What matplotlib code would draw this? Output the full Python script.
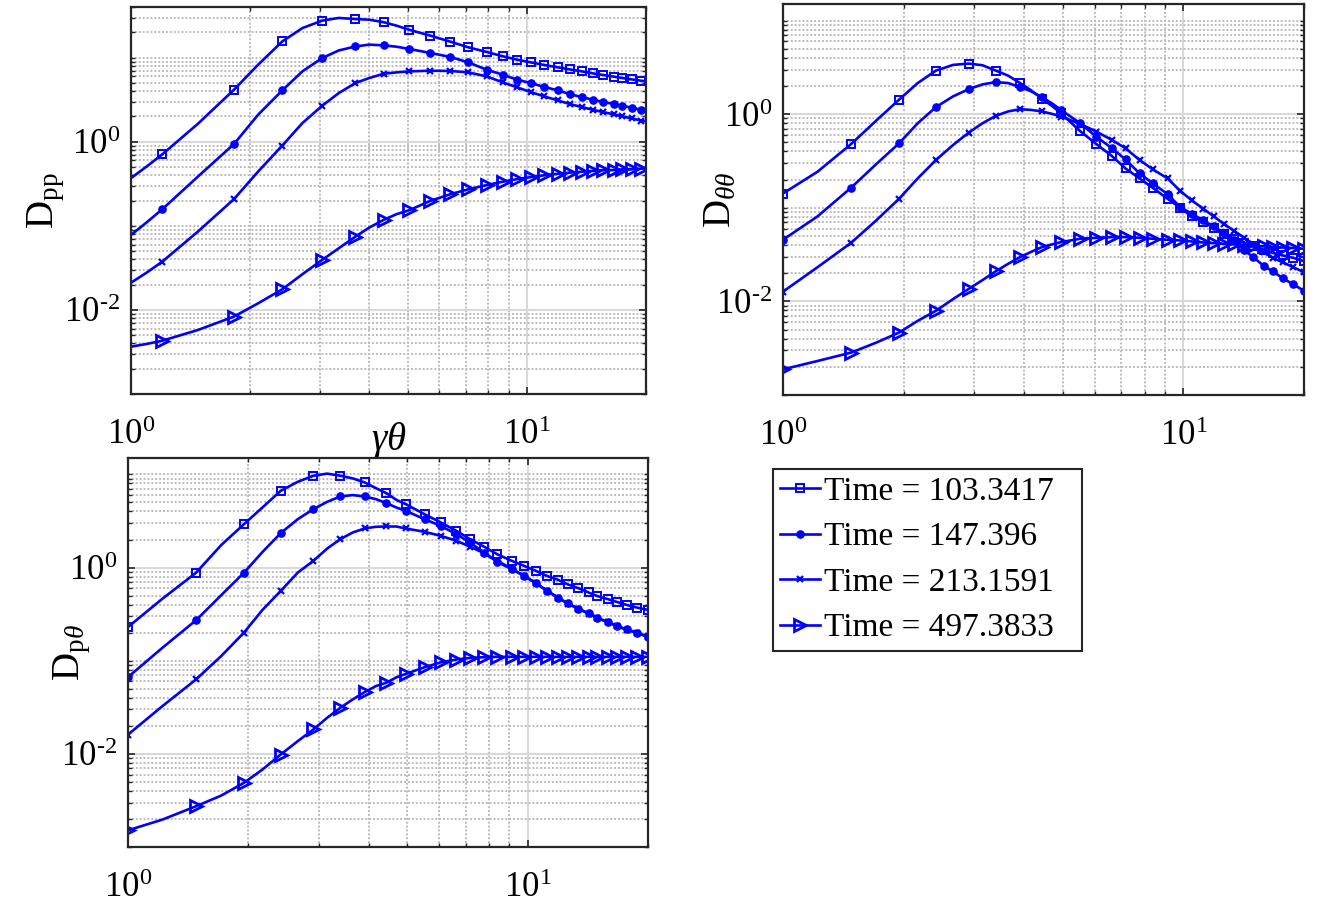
import matplotlib
matplotlib.use('Agg')
import matplotlib.pyplot as plt
from matplotlib.ticker import FixedLocator, FixedFormatter, LogLocator, NullFormatter
from matplotlib.lines import Line2D
import numpy as np

plt.rcParams['font.family'] = ['Liberation Serif', 'DejaVu Serif']
plt.rcParams['mathtext.fontset'] = 'custom'
plt.rcParams['mathtext.rm'] = 'Liberation Serif'
plt.rcParams['mathtext.it'] = 'Liberation Serif:italic'
plt.rcParams['mathtext.bf'] = 'Liberation Serif:bold'
plt.rcParams['axes.unicode_minus'] = False

# legend labels, one per time snapshot
times = ['103.3417', '147.396', '213.1591', '497.3833']

# --- D_pp (top left) ---
# marker positions in gamma*theta (first and last point: curve ends, no marker)
gt_pp = [1.0, 1.2, 1.82, 2.41, 3.04, 3.69, 4.35, 5.04, 5.70, 6.41, 7.11, 7.91, 8.69,
         9.46, 10.23, 11.08, 11.99, 12.84, 13.75, 14.68, 15.61, 16.6, 17.42, 18.39,
         19.45, 20.0]
dpp_t1 = [0.37, 0.71, 4.16, 15.6, 27.6, 28.8, 26.4, 21.5, 18.3, 15.5, 13.3, 11.7, 10.4,
          9.46, 8.8, 8.18, 7.67, 7.26, 6.88, 6.51, 6.22, 5.94, 5.73, 5.52, 5.32, 5.23]
dpp_t2 = [0.078, 0.158, 0.94, 4.08, 9.9, 13.6, 14.0, 12.7, 11.4, 10.2, 8.8, 7.2, 6.28,
          5.47, 4.99, 4.48, 4.08, 3.69, 3.4, 3.16, 2.97, 2.81, 2.68, 2.54, 2.40, 2.35]
dpp_t3 = [0.0211, 0.0376, 0.208, 0.90, 2.68, 5.0, 6.45, 6.87, 7.0, 6.95, 6.69, 6.0, 5.09,
          4.43, 3.9, 3.46, 3.1, 2.81, 2.59, 2.40, 2.25, 2.12, 2.0, 1.9, 1.79, 1.75]
dpp_t4 = [0.00366, 0.00431, 0.00834, 0.0176, 0.0394, 0.0746, 0.118, 0.153, 0.198, 0.238,
          0.272, 0.305, 0.335, 0.36, 0.38, 0.40, 0.416, 0.43, 0.44, 0.45, 0.46, 0.46,
          0.47, 0.47, 0.48, 0.48]
# extra curve points between the first markers (no markers there)
gt_pp_mid = [1.095, 1.476, 2.095, 2.71, 3.35, 4.0, 4.69]
dpp_t1_mid = [0.508, 1.64, 8.26, 22.5, 29.7, 28.3, 24.0]
dpp_t2_mid = [0.11, 0.386, 2.1, 6.88, 12.2, 14.3, 13.5]
dpp_t3_mid = [0.0278, 0.0857, 0.443, 1.67, 3.8, 5.73, 6.69]
dpp_t4_mid = [0.00394, 0.00578, 0.012, 0.0266, 0.0542, 0.0955, 0.138]

# --- grid shared by D_thth (top right) and D_pth (bottom left) ---
gt = [1.0, 1.48, 1.95, 2.41, 2.91, 3.40, 3.91, 4.43, 4.95, 5.52, 6.06, 6.63, 7.17, 7.77,
      8.39, 9.13, 9.81, 10.49, 11.2, 11.9, 12.6, 13.4, 14.2, 14.9, 15.9, 16.7, 17.7,
      18.8, 20.0]
gt_mid = [1.22, 1.71, 2.17, 2.66, 3.15, 3.65, 4.17, 4.69]

dtt_t1 = [0.142, 0.48, 1.43, 2.92, 3.47, 2.92, 2.15, 1.47, 1.02, 0.66, 0.48, 0.357, 0.263,
          0.206, 0.163, 0.125, 0.1, 0.081, 0.0705, 0.0613, 0.0528, 0.0467, 0.042, 0.0386,
          0.0356, 0.033, 0.031, 0.0292, 0.0269]
dtt_t2 = [0.0455, 0.164, 0.489, 1.19, 1.85, 2.2, 1.95, 1.52, 1.11, 0.8, 0.575, 0.432,
          0.329, 0.233, 0.182, 0.14, 0.102, 0.0866, 0.0734, 0.0633, 0.0537, 0.0448, 0.035,
          0.03, 0.0238, 0.021, 0.0177, 0.0152, 0.0130]
dtt_t3 = [0.0127, 0.0423, 0.125, 0.324, 0.636, 0.96, 1.13, 1.07, 0.944, 0.787, 0.652, 0.53,
          0.432, 0.324, 0.257, 0.206, 0.152, 0.12, 0.098, 0.081, 0.0676, 0.0564, 0.0478,
          0.0396, 0.0336, 0.0292, 0.0262, 0.0232, 0.0205]
dtt_t4 = [0.00188, 0.00284, 0.00465, 0.00794, 0.0136, 0.021, 0.0297, 0.038, 0.043, 0.0467,
          0.0478, 0.0486, 0.0486, 0.0478, 0.0467, 0.0455, 0.0448, 0.0437, 0.0426, 0.042,
          0.0412, 0.0406, 0.0396, 0.0394, 0.0386, 0.038, 0.0376, 0.0372, 0.0365]
dtt_t1_mid = [0.243, 0.855, 2.15, 3.36, 3.33, 2.58, 1.79, 1.23]
dtt_t2_mid = [0.081, 0.293, 0.8, 1.55, 2.08, 2.15, 1.75, 1.31]
dtt_t3_mid = [0.0232, 0.0734, 0.206, 0.469, 0.8, 1.07, 1.11, 1.01]
dtt_t4_mid = [0.00231, 0.00363, 0.0062, 0.0106, 0.0169, 0.0252, 0.0339, 0.0406]

dpt_t1 = [0.23, 0.88, 2.92, 6.67, 9.68, 9.68, 8.2, 6.3, 4.8, 3.74, 3.05, 2.48, 2.02, 1.68,
          1.39, 1.18, 1.04, 0.92, 0.81, 0.74, 0.66, 0.6, 0.54, 0.496, 0.457, 0.428, 0.397,
          0.371, 0.351]
dpt_t2 = [0.0667, 0.272, 0.88, 2.34, 4.24, 5.8, 5.8, 4.92, 4.07, 3.31, 2.8, 2.28, 1.86,
          1.45, 1.15, 0.96, 0.81, 0.68, 0.561, 0.476, 0.413, 0.362, 0.323, 0.29, 0.26,
          0.236, 0.217, 0.2, 0.181]
dpt_t3 = [0.0161, 0.063, 0.2, 0.561, 1.18, 2.02, 2.63, 2.76, 2.63, 2.42, 2.19, 1.94, 1.68,
          1.43, 1.18, 0.975, 0.81, 0.68, 0.561, 0.476, 0.41, 0.36, 0.321, 0.288, 0.258,
          0.235, 0.215, 0.198, 0.18]
dpt_t4 = [0.00151, 0.00274, 0.00488, 0.00984, 0.0183, 0.0313, 0.046, 0.058, 0.072, 0.085,
          0.096, 0.103, 0.107, 0.109, 0.11, 0.11, 0.11, 0.11, 0.11, 0.11, 0.11, 0.11,
          0.11, 0.11, 0.11, 0.11, 0.11, 0.11, 0.11]
dpt_t1_mid = [0.464, 1.74, 4.42, 8.34, 10.2, 9.06, 7.13, 5.34]
dpt_t2_mid = [0.138, 0.504, 1.47, 3.31, 5.08, 6.0, 5.43, 4.42]
dpt_t3_mid = [0.0326, 0.112, 0.351, 0.884, 1.6, 2.38, 2.74, 2.76]
dpt_t4_mid = [0.00197, 0.00356, 0.00679, 0.0137, 0.0244, 0.0384, 0.0534, 0.0662]

blue = '#0000ff'
styles = [dict(marker='s', ms=5.5, mfc='none', mew=1.4),
          dict(marker='o', ms=5.2, mfc=blue, mew=1.0),
          dict(marker='x', ms=5, mew=1.6),
          dict(marker='>', ms=8, mfc='none', mew=2.0)]


def plot_series(ax, xm, ym, xmid, ymid, style, skip_ends=False):
    """Draw one curve through marker points and in-between points."""
    x = np.concatenate([xm, xmid])
    y = np.concatenate([ym, ymid])
    order = np.argsort(x, kind='stable')
    is_marker = np.concatenate([np.ones(len(xm), bool), np.zeros(len(xmid), bool)])
    if skip_ends:
        is_marker[0] = False
        is_marker[len(xm) - 1] = False
    idx = list(np.nonzero(is_marker[order])[0])
    ax.plot(x[order], y[order], color=blue, lw=1.9, markevery=idx, **style)


def style_axes(ax, ylim):
    ax.set_xscale('log')
    ax.set_yscale('log')
    ax.set_xlim(1, 20)
    ax.set_ylim(*ylim)
    ax.xaxis.set_major_locator(FixedLocator([1, 10]))
    ax.xaxis.set_major_formatter(FixedFormatter([r'$10^{0}$', r'$10^{1}$']))
    ax.xaxis.set_minor_locator(LogLocator(base=10, subs=np.arange(1, 10), numticks=50))
    ax.xaxis.set_minor_formatter(NullFormatter())
    ax.yaxis.set_major_locator(FixedLocator([1e-2, 1e0]))
    ax.yaxis.set_major_formatter(FixedFormatter([r'$10^{\text{-}2}$', r'$10^{0}$']))
    ax.yaxis.set_minor_locator(LogLocator(base=10, subs=np.arange(1, 10), numticks=50))
    ax.yaxis.set_minor_formatter(NullFormatter())
    ax.grid(which='major', color='#d9d9d9', linestyle='-', linewidth=1.5)
    ax.grid(which='minor', color='#bcbcbc', linestyle=(0, (1, 1)), linewidth=1.4)
    ax.set_axisbelow(True)
    ax.tick_params(which='both', direction='in', top=True, right=True,
                   color='#262626', labelsize=25)
    ax.tick_params(which='major', length=5, width=1.2)
    ax.tick_params(which='minor', length=3, width=1.0)
    ax.tick_params(axis='x', pad=18)
    ax.tick_params(axis='y', pad=8)
    for s in ax.spines.values():
        s.set_color('#262626')
        s.set_linewidth(1.6)


fig = plt.figure(figsize=(13.17, 9.05), dpi=100)
ax1 = fig.add_axes([0.0995, 0.5646, 0.391, 0.4276])
ax2 = fig.add_axes([0.5945, 0.5635, 0.3956, 0.432])
ax3 = fig.add_axes([0.0972, 0.0641, 0.3948, 0.4298])

for y, ym, st in zip([dpp_t1, dpp_t2, dpp_t3, dpp_t4],
                     [dpp_t1_mid, dpp_t2_mid, dpp_t3_mid, dpp_t4_mid], styles):
    plot_series(ax1, gt_pp, y, gt_pp_mid, ym, st, skip_ends=True)
for y, ym, st in zip([dtt_t1, dtt_t2, dtt_t3, dtt_t4],
                     [dtt_t1_mid, dtt_t2_mid, dtt_t3_mid, dtt_t4_mid], styles):
    plot_series(ax2, gt, y, gt_mid, ym, st)
for y, ym, st in zip([dpt_t1, dpt_t2, dpt_t3, dpt_t4],
                     [dpt_t1_mid, dpt_t2_mid, dpt_t3_mid, dpt_t4_mid], styles):
    plot_series(ax3, gt, y, gt_mid, ym, st)

style_axes(ax1, (1e-3, 40))
style_axes(ax2, (1e-3, 15))
style_axes(ax3, (1e-3, 15))

ax1.set_ylabel(r'D$_{\mathrm{pp}}$', fontsize=28)
ax1.yaxis.set_label_coords(-0.125, 0.5)
ax1.set_xlabel(r'$\gamma\theta$', fontsize=28)
ax1.xaxis.set_label_coords(0.5, -0.068)
ax2.set_ylabel(r'D$_{\theta\theta}$', fontsize=28)
ax2.yaxis.set_label_coords(-0.084, 0.5)
ax3.set_ylabel(r'D$_{\mathrm{p}\theta}$', fontsize=28)
ax3.yaxis.set_label_coords(-0.067, 0.5)

handles = [Line2D([], [], color=blue, lw=1.9, **st) for st in styles]
leg = fig.legend(handles, ['Time = ' + t for t in times], loc='upper left',
                 bbox_to_anchor=(773 / 1317, 1 - 650 / 905, 309 / 1317, 181 / 905),
                 mode='expand', borderaxespad=0, fontsize=24, handlelength=1.2,
                 handletextpad=0.1, labelspacing=0.45, borderpad=0.22,
                 fancybox=False, framealpha=1)
leg.get_frame().set_edgecolor('#262626')
leg.get_frame().set_linewidth(1.5)

fig.savefig('out.png', dpi=100)
